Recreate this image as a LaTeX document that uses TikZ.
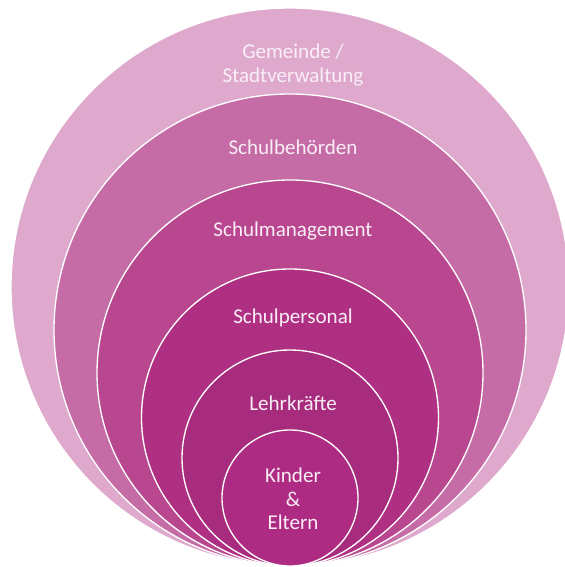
\documentclass[tikz,border=0pt]{standalone}
\usepackage{fontspec}
\setmainfont{Carlito}
\usepackage{xcolor}
\usetikzlibrary{positioning}
\definecolor{ringA}{HTML}{DEA9CD}
\definecolor{ringB}{HTML}{C56BA6}
\definecolor{ringC}{HTML}{B8478F}
\definecolor{ringD}{HTML}{AF3082}
\definecolor{ringE}{HTML}{A82C7D}
\definecolor{ringF}{HTML}{AE2B83}
\definecolor{lbltext}{HTML}{FAEEF6}
\tikzset{
  ring/.style={draw=white, line width=1pt},
  lbl/.style={text=lbltext, align=center, inner sep=0pt,
    font=\fontsize{15.8}{17.6}\selectfont}
}

\begin{document}
\begin{tikzpicture}[x=0.75pt,y=0.75pt]
			\useasboundingbox (0,0) rectangle (564,567);
			% draw circles, all touching at the bottom
			\filldraw[ring, fill=ringA] (290,280) circle (279);
			\filldraw[ring, fill=ringB] (290,237) circle (236);
			\filldraw[ring, fill=ringC] (290,194) circle (193);
			\filldraw[ring, fill=ringD] (290,149.5) circle (148.5);
			\filldraw[ring, fill=ringE] (290,109) circle (108);
			\filldraw[ring, fill=ringF] (290,69) circle (68);
			% add labels
			\node[lbl] (gemeinde) at (293,502) {Gemeinde /\\Stadtverwaltung};
			\node[lbl] (behoerden) at (293,420) {Schulbehörden};
			\node[lbl] (management) at (293,336) {Schulmanagement};
			\node[lbl] (personal) at (293,249) {Schulpersonal};
			\node[lbl] (lehrkraefte) at (293,164) {Lehrkräfte};
			\node[lbl] (kinder) at (293,68) {Kinder\\\&\\Eltern};
		\end{tikzpicture}
\end{document}
